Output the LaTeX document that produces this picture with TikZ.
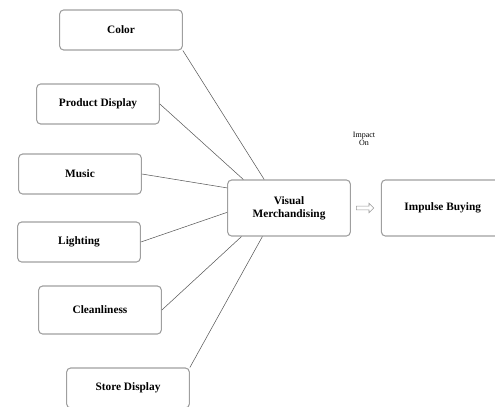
\documentclass[tikz,border=0pt]{standalone}
\usepackage{fontspec}
\setmainfont{Liberation Serif}
\usetikzlibrary{arrows.meta, positioning, shapes.arrows}

\begin{document}
\begin{tikzpicture}[
    x=0.75pt, y=-0.75pt,
    box/.style={draw=gray!75, thick, rounded corners=3pt, minimum width=92pt, minimum height=30pt, align=center, font=\fontsize{8.5}{10}\selectfont\bfseries},
    link/.style={draw=gray!70!black, thin},
    >=Latex
]
\useasboundingbox (0,0) rectangle (495,406);

\node[box] (color) at (121,30) {Color};
\node[box] (prod) at (98,104) {Product Display};
\node[box] (music) at (80,174) {Music};
\node[box] (light) at (79,242) {Lighting};
\node[box, minimum height=36pt] (clean) at (100,310) {Cleanliness};
\node[box] (store) at (128,388) {Store Display};

\node[box, minimum height=42pt] (vm) at (289,208) {Visual\\Merchandising};
\node[box, minimum height=42pt, right=22.5pt of vm] (ib) {Impulse Buying};

\draw[link] (color.south east) -- (vm.131);
\draw[link] (prod.east) -- (vm.148);
\draw[link] (music.east) -- (vm.162);
\draw[link] (light.east) -- (vm.184);
\draw[link] (clean.east) -- (vm.211);
\draw[link] (store.north east) -- (vm.227);

\node[single arrow, draw=gray!80, inner sep=1.2pt, minimum height=13pt, single arrow head extend=2.2pt, right=4pt of vm] (imparrow) {};

\node[align=center, font=\fontsize{6}{6.5}\selectfont] (impact) at (364,139) {Impact\\On};

\end{tikzpicture}
\end{document}
